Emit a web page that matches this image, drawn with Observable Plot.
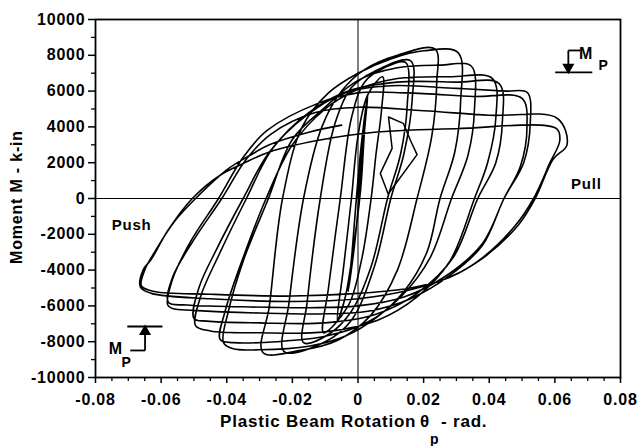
<!DOCTYPE html>
<html><head><meta charset="utf-8">
<script src="https://cdn.jsdelivr.net/npm/d3@7"></script>
<script src="https://cdn.jsdelivr.net/npm/@observablehq/plot@0.6"></script>
<style>
body{margin:0;background:#fff;}
svg text{letter-spacing:0.8px;}
</style></head><body><div id="chart"></div>
<script>
// tick values
const xTicks = [-0.08,-0.06,-0.04,-0.02,0,0.02,0.04,0.06,0.08];
const yTicks = [-10000,-8000,-6000,-4000,-2000,0,2000,4000,6000,8000,10000];
const xMinor = [-0.075,-0.07,-0.065,-0.055,-0.05,-0.045,-0.035,-0.03,-0.025,-0.015,-0.01,-0.005,0.005,0.01,0.015,0.025,0.03,0.035,0.045,0.05,0.055,0.065,0.07,0.075];
const yMinor = [-9000,-7000,-5000,-3000,-1000,1000,3000,5000,7000,9000];

// hysteresis cycles: [rotation (rad), moment (k-in)]
const c01 = [[0,0],[0.001,2600],[0.0025,5000],[0.0018,3500],[0.0005,500],[-0.001,-2500],[-0.003,-5200]];
const c02 = [[-0.0018,-3000],[-0.0005,0],[0.001,3000],[0.003,5800],[0.002,3800],[0.0008,500],[-0.002,-3500],[-0.004,-5600],[-0.0063,-6800]];
const c03 = [[-0.0045,-4000],[-0.002,0],[0.0,3500],[0.003,5800],[0.0075,6800],[0.0072,5000],[0.0055,2500],[0.004,0],[0.001,-3500],[-0.003,-6000],[-0.0105,-7500]];
const c04 = [[-0.009,-5000],[-0.0054,0],[-0.002,4500],[0.002,6500],[0.008,7300],[0.0145,7600],[0.015,5200],[0.013,2500],[0.009,0],[0.004,-3800],[-0.002,-6300],[-0.009,-7600],[-0.0166,-8050]];
const c05 = [[-0.0155,-5800],[-0.0115,0],[-0.007,4200],[-0.002,6200],[0.005,7100],[0.016,7700],[0.0165,5500],[0.014,2500],[0.010,0],[0.005,-3800],[-0.002,-6800],[-0.01,-8000],[-0.0225,-8550]];
const c06 = [[-0.021,-5800],[-0.0166,0],[-0.011,4000],[-0.005,6000],[0.002,7200],[0.012,8000],[0.0235,8350],[0.024,6500],[0.0225,3500],[0.018,0],[0.012,-4000],[0.004,-6500],[-0.006,-7900],[-0.018,-8500],[-0.029,-8600]];
const c07 = [[-0.027,-6000],[-0.023,0],[-0.017,4000],[-0.009,5900],[0.0,7000],[0.01,7800],[0.02,8250],[0.0305,8150],[0.0313,5500],[0.0295,2600],[0.025,0],[0.021,-3000],[0.014,-5200],[0.006,-6600],[-0.004,-7700],[-0.015,-8250],[-0.03,-8450],[-0.038,-8400],[-0.041,-8050]];
const c08 = [[-0.0395,-6300],[-0.035,-3500],[-0.0273,0],[-0.02,3300],[-0.01,5100],[0.0,6600],[0.012,7300],[0.025,7450],[0.0345,7400],[0.0355,5000],[0.0335,2400],[0.0285,0],[0.022,-3300],[0.013,-5500],[0.003,-6900],[-0.01,-7700],[-0.025,-8000],[-0.038,-8050],[-0.042,-7880]];
const c09 = [[-0.0405,-6300],[-0.035,-3300],[-0.028,0],[-0.02,3000],[-0.01,5000],[0.0,6100],[0.012,6700],[0.028,6800],[0.041,6700],[0.042,4500],[0.0395,2000],[0.0355,0],[0.028,-3500],[0.018,-5500],[0.006,-6800],[-0.01,-7450],[-0.03,-7500],[-0.045,-7400],[-0.0495,-7100]];
const c10 = [[-0.048,-5500],[-0.042,-3000],[-0.034,0],[-0.026,2800],[-0.015,4800],[-0.003,6000],[0.012,6500],[0.03,6500],[0.043,6420],[0.044,4300],[0.042,2000],[0.0365,0],[0.029,-3300],[0.018,-5300],[0.005,-6500],[-0.01,-6950],[-0.03,-6950],[-0.046,-6850],[-0.050,-6700]];
const c11 = [[-0.0485,-5000],[-0.043,-2800],[-0.035,0],[-0.027,2600],[-0.016,4600],[-0.004,5900],[0.01,6300],[0.03,6150],[0.045,6000],[0.0516,5920],[0.0525,4200],[0.0505,2000],[0.0445,0],[0.038,-2600],[0.028,-4300],[0.016,-5600],[0.003,-6300],[-0.012,-6450],[-0.03,-6400],[-0.05,-6250],[-0.0565,-6150],[-0.058,-5950]];
const c12 = [[-0.0565,-4500],[-0.051,-2400],[-0.0425,0],[-0.035,2300],[-0.0277,3800],[-0.0124,5300],[0,5900],[0.015,5900],[0.035,5700],[0.05,5590],[0.0515,4000],[0.0495,1800],[0.0445,0],[0.038,-2500],[0.027,-4300],[0.014,-5500],[0.0,-6000],[-0.015,-6100],[-0.035,-6050],[-0.052,-5950],[-0.0578,-5800]];
const c13 = [[-0.0565,-4400],[-0.05,-2300],[-0.0415,0],[-0.034,2200],[-0.0265,3600],[-0.013,4800],[0,5100],[0.02,4900],[0.04,4650],[0.0608,4470],[0.0637,3000],[0.0595,2200],[0.054,0],[0.049,-1450],[0.039,-3200],[0.029,-4300],[0.016,-5100],[0.0,-5600],[-0.02,-5750],[-0.045,-5600],[-0.063,-5300],[-0.0663,-4950]];
const c14 = [[-0.0655,-4000],[-0.063,-3400],[-0.058,-1800],[-0.0505,0],[-0.042,1300],[-0.035,1950],[-0.027,2600],[-0.012,3250],[0.005,3700],[0.03,3900],[0.0605,3900],[0.0615,3240],[0.0585,2000],[0.0535,0],[0.048,-1500],[0.038,-3300],[0.028,-4400],[0.016,-5000],[0.0,-5300],[-0.02,-5450],[-0.045,-5350],[-0.062,-5200],[-0.066,-4880]];
const c15 = [[-0.065,-4000],[-0.062,-3000],[-0.056,-1300],[-0.0495,0],[-0.04,1600],[-0.033,2400],[-0.027,3000],[-0.015,3700],[-0.005,4100]];
const diamond = [[0.0093,4550],[0.0104,2800],[0.0068,1400],[0.0092,250],[0.018,2450],[0.016,3240],[0.0138,4200],[0.0093,4550]];

// annotations
const notes = [{x:-0.069, y:-1500, text:"Push"},{x:0.0696, y:780, text:"Pull"}];
const mpLines = [
  {x1:0.0601,y1:7050,x2:0.0714,y2:7050},{x1:0.0641,y1:8270,x2:0.0641,y2:7300},{x1:0.0641,y1:8270,x2:0.0677,y2:8270},
  {x1:-0.0703,y1:-7150,x2:-0.0596,y2:-7150},{x1:-0.0649,y1:-8490,x2:-0.0649,y2:-7400},{x1:-0.0694,y1:-8490,x2:-0.0649,y2:-8490}
];
const mpHeads = [{x:0.0641,y:7330,rot:180},{x:-0.0649,y:-7430,rot:0}];
const mpText = [{x:0.0695,y:8100,t:"M",s:16},{x:0.0748,y:7430,t:"P",s:14},{x:-0.0738,y:-8420,t:"M",s:16},{x:-0.0705,y:-9180,t:"P",s:14}];

const path = [c01,c02,c03,c04,c05,c06,c07,c08,c09,c10,c11,c12,c13,c14,c15].flat();

const fx = d => d === 0 ? "0" : d.toFixed(2);
const chart = Plot.plot({
  width: 639, height: 446,
  marginLeft: 95, marginRight: 19, marginTop: 19, marginBottom: 69,
  x: {domain: [-0.08, 0.08]},
  y: {domain: [-10000, 10000]},
  style: {fontFamily: "'Liberation Sans', Arial, sans-serif", fontSize: "16px", fontWeight: "bold", color: "black", background: "white"},
  marks: [
    Plot.ruleX([0], {stroke: "black", strokeWidth: 1}),
    Plot.ruleY([0], {stroke: "black", strokeWidth: 1}),
    Plot.axisX(xMinor, {tickSize: 4, tickFormat: () => "", label: null, strokeWidth: 1.3}),
    Plot.axisX(xTicks, {tickSize: 6, tickPadding: 10, tickFormat: fx, label: null, strokeWidth: 1.5}),
    Plot.axisY(yMinor, {tickSize: 4, tickFormat: () => "", label: null, strokeWidth: 1.3}),
    Plot.axisY(yTicks, {tickSize: 7, tickPadding: 3, tickFormat: d => String(d), label: null, strokeWidth: 1.5}),
    Plot.line(path, {x: d => d[0], y: d => d[1], curve: "catmull-rom", stroke: "black", strokeWidth: 1.6}),
    Plot.line(diamond, {x: d => d[0], y: d => d[1], stroke: "black", strokeWidth: 1.5}),
    Plot.frame({stroke: "black", strokeWidth: 1.8}),
    Plot.text(notes, {x: "x", y: "y", text: "text", fontSize: 15, fontWeight: "bold", fill: "black"}),
    Plot.link(mpLines, {x1: "x1", y1: "y1", x2: "x2", y2: "y2", stroke: "black", strokeWidth: 1.8}),
    Plot.dot(mpHeads, {x: "x", y: "y", rotate: "rot", symbol: "triangle", r: 4.5, fill: "black", stroke: "none"}),
    Plot.text(mpText, {x: "x", y: "y", text: "t", fontSize: d => d.s, fontWeight: "bold", fill: "black"})
  ]
});
document.getElementById("chart").appendChild(chart);

const svg = d3.select(chart);
const ff = "'Liberation Sans', Arial, sans-serif";
const addText = (x, y, size, str, anchor) => svg.append("text").attr("x", x).attr("y", y)
  .attr("text-anchor", anchor).attr("font-family", ff).attr("font-size", size)
  .attr("font-weight", "bold").attr("fill", "black").text(str);
svg.append("text").attr("transform", "translate(22,197) rotate(-90)").attr("text-anchor", "middle")
  .attr("font-family", ff).attr("font-size", 16).attr("font-weight", "bold").attr("fill", "black").text("Moment M - k-in");
addText(220, 427, 17, "Plastic Beam Rotation", "start");
addText(420, 427, 17, "θ", "start");
addText(430, 444, 14, "p", "start");
addText(441, 427, 17, "- rad.", "start");
</script></body></html>
